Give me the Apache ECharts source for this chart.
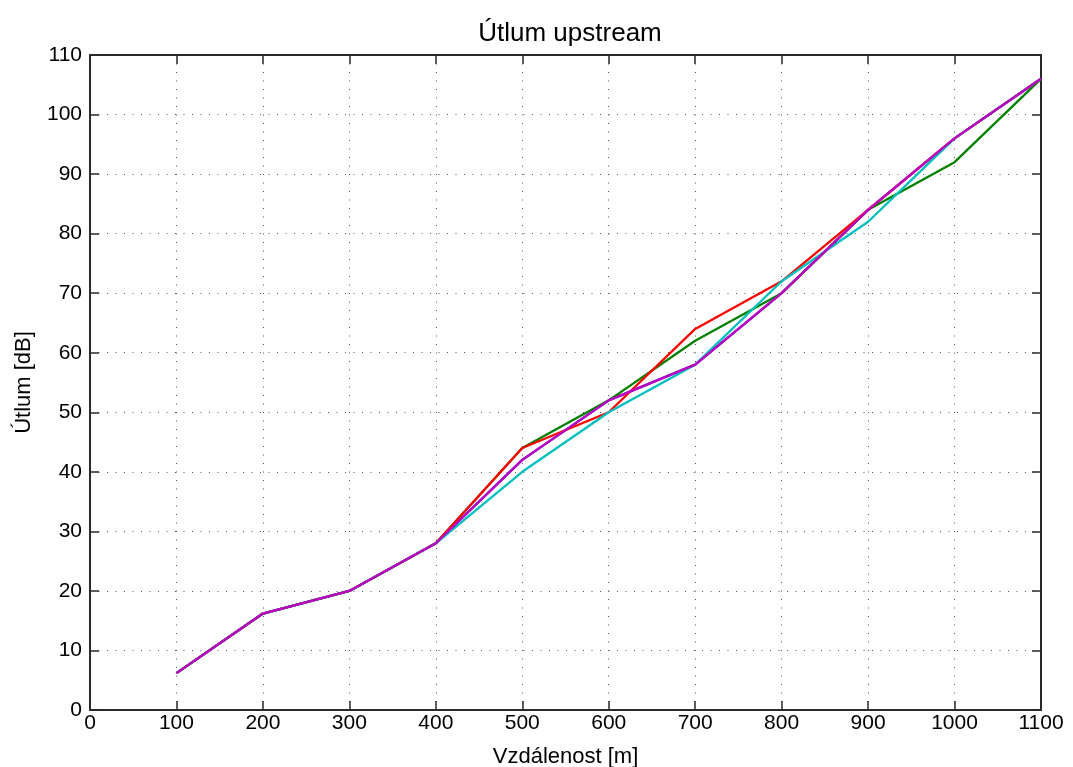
<!DOCTYPE html>
<html>
<head>
<meta charset="utf-8">
<script src="https://cdn.jsdelivr.net/npm/echarts@6/dist/echarts.min.js"></script>
<style>
  html, body { margin: 0; padding: 0; background: #fff; }
  #chart { width: 1073px; height: 767px; }
</style>
</head>
<body>
<div id="chart"></div>
<script>
// vzdalenost [m]
var distance = [100, 200, 300, 400, 500, 600, 700, 800, 900, 1000, 1100];
// utlum [dB] pro jednotlive mereni
var serBlue    = [6.2, 16.2, 20, 28, 42, 52, 58, 70, 84, 96, 106];
var serGreen   = [6.2, 16.2, 20, 28, 44, 52, 62, 70, 84, 92, 106];
var serRed     = [6.2, 16.2, 20, 28, 44, 50, 64, 72, 84, 96, 106];
var serCyan    = [6.2, 16.2, 20, 28, 40, 50, 58, 72, 82, 96, 106];
var serMagenta = [6.2, 16.2, 20, 28, 42, 52, 58, 70, 84, 96, 106];

function pairs(ys) {
    return distance.map(function (d, i) { return [d, ys[i]]; });
}

function mkLine(name, color, ys) {
    return {
        name: name,
        type: 'line',
        data: pairs(ys),
        symbol: 'none',
        lineStyle: { color: color, width: 2.3 },
        itemStyle: { color: color },
        animation: false
    };
}

var font = 'Liberation Sans, Arial, sans-serif';
function axisLineSt() { return { show: true, onZero: false, lineStyle: { color: '#2a2a2a', width: 2 } }; }
function tickSt() { return { show: true, inside: true, length: 9, lineStyle: { color: '#2a2a2a', width: 1.5 } }; }
function gridSt() { return { show: true, lineStyle: { type: [1, 7.5], color: '#555', width: 1 } }; }

var chart = echarts.init(document.getElementById('chart'));
chart.setOption({
    backgroundColor: '#fff',
    title: {
        text: 'Útlum upstream',
        left: 565,
        textAlign: 'center',
        top: 16,
        textStyle: { fontFamily: font, fontSize: 26, fontWeight: 'normal', color: '#000' }
    },
    grid: { left: 90, right: 32, top: 55, bottom: 57, outerBoundsMode: 'none', containLabel: false },
    xAxis: [{
        type: 'value',
        min: 0, max: 1100, interval: 100,
        name: 'Vzdálenost [m]',
        nameLocation: 'middle',
        nameGap: 36,
        nameTextStyle: { fontFamily: font, fontSize: 22, color: '#000' },
        axisLine: axisLineSt(),
        axisTick: tickSt(),
        axisLabel: { fontFamily: font, fontSize: 21, color: '#000', margin: 3,
            formatter: function (v) { return String(v); } },
        splitLine: gridSt()
    }, {
        type: 'value',
        position: 'top',
        min: 0, max: 1100, interval: 100,
        axisLine: axisLineSt(),
        axisTick: tickSt(),
        axisLabel: { show: false },
        splitLine: { show: false }
    }],
    yAxis: [{
        type: 'value',
        min: 0, max: 110, interval: 10,
        name: 'Útlum [dB]',
        nameLocation: 'middle',
        nameGap: 55,
        nameTextStyle: { fontFamily: font, fontSize: 22, color: '#000' },
        axisLine: axisLineSt(),
        axisTick: tickSt(),
        axisLabel: { fontFamily: font, fontSize: 21, color: '#000', margin: 8,
            formatter: function (v) { return String(v); } },
        splitLine: gridSt()
    }, {
        type: 'value',
        position: 'right',
        min: 0, max: 110, interval: 10,
        axisLine: axisLineSt(),
        axisTick: tickSt(),
        axisLabel: { show: false },
        splitLine: { show: false }
    }],
    series: [
        mkLine('blue', '#0000ff', serBlue),
        mkLine('green', '#008000', serGreen),
        mkLine('red', '#ff0000', serRed),
        mkLine('cyan', '#00bfbf', serCyan),
        mkLine('magenta', '#bf00bf', serMagenta)
    ]
});
</script>
</body>
</html>
